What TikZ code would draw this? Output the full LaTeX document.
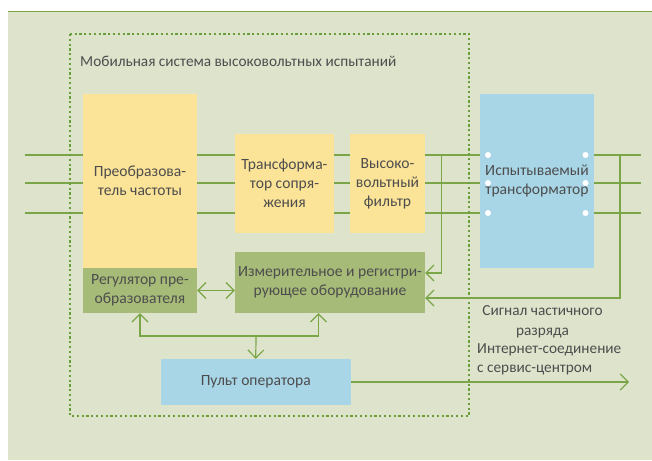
\documentclass[tikz,border=0pt]{standalone}
\usepackage{fontspec}
\setmainfont{Carlito}
\usepackage{tikz}
\usetikzlibrary{arrows.meta}
\usetikzlibrary{backgrounds}
\definecolor{fon}{RGB}{222,228,204}
\definecolor{liniya}{RGB}{122,166,72}
\definecolor{ramka}{RGB}{106,158,58}
\definecolor{zheltyj}{RGB}{251,227,151}
\definecolor{zelenyj}{RGB}{166,187,120}
\definecolor{goluboj}{RGB}{168,214,230}
\definecolor{tekst}{RGB}{77,77,77}
\tikzset{
  blok/.style={rectangle, inner sep=0pt, align=center, text=tekst, font=\fontsize{15.6}{19}\selectfont},
  podpis/.style={inner sep=0pt, text=tekst, font=\fontsize{15.3}{19.5}\selectfont},
  svyaz/.style={liniya, line width=1.2pt},
  strelka/.style={svyaz, -{Straight Barb[length=8pt,width=16pt]}},
  dvestrelki/.style={svyaz, {Straight Barb[length=8pt,width=16pt]}-{Straight Barb[length=8pt,width=16pt]}}
}
\newcommand{\blok}[7]{\node[blok, fill=#2, minimum width=#5pt, minimum height=#6pt] (#1) at (#3,#4) {#7};}
\newcommand{\klemma}[2]{\fill[white] (#1,#2) circle (3pt);}

\begin{document}
\begin{tikzpicture}[x=1pt, y=-1pt]
        \useasboundingbox (0,0) rectangle (652,460);
        % shiny
        \foreach \i/\yy in {1/155,2/183,3/213} {
            \coordinate (vh\i) at (25,\yy);
            \coordinate (vyh\i) at (641,\yy);
        }
        \coordinate (otvod1) at (441.6,155);
        \coordinate (otvod2) at (620,155);
        % ramka
        \draw[ramka, line width=2.2pt, dash pattern=on 2.2pt off 2.6pt] (70,34) rectangle (469,416);
        \node[podpis, anchor=west] (nazv) at (80,61) {Мобильная система высоковольтных испытаний};
        % bloki
        \blok{conv}{zheltyj}{140}{181}{114}{174}{Преобразова-\\тель частоты}
        \blok{reg}{zelenyj}{140}{290.5}{114}{45}{Регулятор пре-\\образователя}
        \blok{tr}{zheltyj}{284.5}{183.5}{99}{99}{Трансформа-\\тор сопря-\\жения}
        \blok{flt}{zheltyj}{387.5}{183.5}{75}{99}{Высоко-\\вольтный\\фильтр}
        \blok{meas}{zelenyj}{330}{282.5}{190}{61}{Измерительное и регистри-\\рующее оборудование}
        \blok{dut}{goluboj}{537}{181}{114}{174}{Испытываемый\\трансформатор}
        \blok{op}{goluboj}{255.75}{382}{189.5}{46}{Пульт оператора}
        \begin{pgfonlayer}{background}
            % fon
            \fill[fon] (8,12) rectangle (652,460);
            \draw[liniya, line width=1pt] (8,12) -- (652,12);
            \foreach \i in {1,2,3} \draw[svyaz] (vh\i) -- (vyh\i);
        \end{pgfonlayer}
        \foreach \yy in {155,183,213} {\klemma{488}{\yy} \klemma{585.5}{\yy}}
        % svyazi
        \draw[strelka] (otvod1) |- ([yshift=9.5pt]meas.east);
        \draw[strelka] (otvod2) |- ([yshift=-15.5pt]meas.east);
        \draw[dvestrelki] (reg.east) -- (reg.east -| meas.west);
        \coordinate (shina) at (256,336);
        \draw[strelka] (shina) -| (reg.south);
        \draw[strelka] (shina) -| ([xshift=-11.5pt]meas.south);
        \draw[strelka] (shina) -- (op.north);
        \coordinate (internet) at (629,381);
        \draw[strelka] (op.east) -- (op.east -| internet);
        % podpisi
        \node[podpis, align=center] (signal) at (542.5,322) {Сигнал частичного\\разряда};
        \node[podpis, align=left, anchor=west] (servis) at (477,359.5) {Интернет-соединение\\с сервис-центром};
\end{tikzpicture}
\end{document}
